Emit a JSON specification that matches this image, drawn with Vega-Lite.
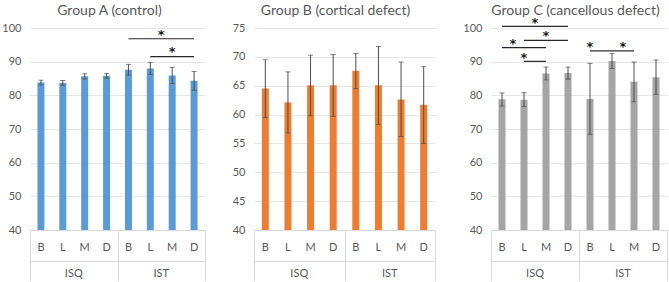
{
"$schema": "https://vega.github.io/schema/vega-lite/v6.json",
"background": "white",
"autosize": {"type": "pad"},
"padding": {"left": 1, "top": 4, "right": 0, "bottom": 0},
"spacing": 26,
"datasets": {
"bars": [
{"panel":"A","cat":"ISQ|B","value":83.8,"lo":83.1,"hi":84.5},
{"panel":"A","cat":"ISQ|L","value":83.7,"lo":83.0,"hi":84.4},
{"panel":"A","cat":"ISQ|M","value":85.7,"lo":84.9,"hi":86.4},
{"panel":"A","cat":"ISQ|D","value":85.8,"lo":85.1,"hi":86.5},
{"panel":"A","cat":"IST|B","value":87.6,"lo":86.0,"hi":89.2},
{"panel":"A","cat":"IST|L","value":88.0,"lo":86.2,"hi":89.8},
{"panel":"A","cat":"IST|M","value":85.9,"lo":83.5,"hi":88.3},
{"panel":"A","cat":"IST|D","value":84.3,"lo":81.5,"hi":87.1},
{"panel":"B","cat":"ISQ|B","value":64.5,"lo":59.5,"hi":69.5},
{"panel":"B","cat":"ISQ|L","value":62.1,"lo":56.8,"hi":67.4},
{"panel":"B","cat":"ISQ|M","value":65.1,"lo":59.8,"hi":70.3},
{"panel":"B","cat":"ISQ|D","value":65.1,"lo":59.7,"hi":70.4},
{"panel":"B","cat":"IST|B","value":67.6,"lo":64.5,"hi":70.6},
{"panel":"B","cat":"IST|L","value":65.1,"lo":58.3,"hi":71.8},
{"panel":"B","cat":"IST|M","value":62.6,"lo":56.2,"hi":69.1},
{"panel":"B","cat":"IST|D","value":61.7,"lo":55.0,"hi":68.3},
{"panel":"C","cat":"ISQ|B","value":78.8,"lo":76.8,"hi":80.7},
{"panel":"C","cat":"ISQ|L","value":78.7,"lo":76.7,"hi":80.8},
{"panel":"C","cat":"ISQ|M","value":86.5,"lo":84.6,"hi":88.4},
{"panel":"C","cat":"ISQ|D","value":86.6,"lo":84.8,"hi":88.4},
{"panel":"C","cat":"IST|B","value":78.9,"lo":68.4,"hi":89.5},
{"panel":"C","cat":"IST|L","value":90.2,"lo":88.0,"hi":92.4},
{"panel":"C","cat":"IST|M","value":84.0,"lo":78.1,"hi":89.9},
{"panel":"C","cat":"IST|D","value":85.4,"lo":80.3,"hi":90.5}
],
"sig": [
{"panel":"A","from":"IST|B","to":"IST|D","y":96.8},
{"panel":"A","from":"IST|L","to":"IST|D","y":91.5},
{"panel":"C","from":"ISQ|B","to":"ISQ|D","y":100.5},
{"panel":"C","from":"ISQ|L","to":"ISQ|D","y":96.3},
{"panel":"C","from":"ISQ|B","to":"ISQ|M","y":94.2},
{"panel":"C","from":"ISQ|L","to":"ISQ|M","y":90.1},
{"panel":"C","from":"IST|B","to":"IST|L","y":93.2},
{"panel":"C","from":"IST|L","to":"IST|M","y":93.2}
],
"stars": [
{"panel":"A","at":"IST|L","edge":true,"y":98.0},
{"panel":"A","at":"IST|M","edge":false,"y":92.8},
{"panel":"C","at":"ISQ|L","edge":true,"y":101.4},
{"panel":"C","at":"ISQ|M","edge":false,"y":97.5},
{"panel":"C","at":"ISQ|B","edge":true,"y":95.3},
{"panel":"C","at":"ISQ|L","edge":false,"y":91.0},
{"panel":"C","at":"IST|B","edge":false,"y":94.5},
{"panel":"C","at":"IST|L","edge":true,"y":94.5}
],
"groups": [{"group":"ISQ"},{"group":"IST"}]
},
"hconcat": [
{
"width": 175, "height": 202,
"title": {"text": "Group A (control)", "dx": -8, "offset": 4},
"resolve": {"scale": {"x": "independent"}, "axis": {"x": "independent"}},
"layer": [
 {"layer": [
  {"data": {"name": "bars"}, "transform": [{"filter": "datum.panel === 'A'"}],
   "layer": [
    {"mark": {"type": "bar", "size": 7, "color": "#5B9BD5"},
     "encoding": {
      "x": {"field": "cat", "type": "nominal", "scale": {"domain": ["ISQ|B","ISQ|L","ISQ|M","ISQ|D","IST|B","IST|L","IST|M","IST|D"], "paddingInner": 0, "paddingOuter": 0},
            "axis": {"orient": "bottom", "title": null, "labelExpr": "split(datum.value,'|')[1]", "labelAngle": 0, "ticks": false, "domain": true, "domainColor": "#d9d9d9", "labelPadding": 11, "grid": false}},
      "y": {"field": "value", "type": "quantitative", "scale": {"domain": [40, 100], "nice": false},
            "axis": {"title": null, "values": [40,50,60,70,80,90,100], "labelOverlap": false, "domain": false, "ticks": false, "grid": true, "labelPadding": 9}},
      "y2": {"datum": 40}}},
    {"mark": {"type": "rule", "color": "#4d4d4d"},
     "encoding": {"x": {"field": "cat", "type": "nominal", "title": null}, "y": {"field": "lo", "type": "quantitative", "axis": {"title": null, "values": [40,50,60,70,80,90,100], "labelOverlap": false, "domain": false, "ticks": false, "grid": true, "labelPadding": 9}}, "y2": {"field": "hi"}}},
    {"mark": {"type": "tick", "orient": "horizontal", "size": 5, "thickness": 1, "color": "#4d4d4d"},
     "encoding": {"x": {"field": "cat", "type": "nominal", "title": null}, "y": {"field": "lo", "type": "quantitative", "axis": {"title": null, "values": [40,50,60,70,80,90,100], "labelOverlap": false, "domain": false, "ticks": false, "grid": true, "labelPadding": 9}}}},
    {"mark": {"type": "tick", "orient": "horizontal", "size": 5, "thickness": 1, "color": "#4d4d4d"},
     "encoding": {"x": {"field": "cat", "type": "nominal", "title": null}, "y": {"field": "hi", "type": "quantitative", "axis": {"title": null, "values": [40,50,60,70,80,90,100], "labelOverlap": false, "domain": false, "ticks": false, "grid": true, "labelPadding": 9}}}}
   ]},
  {"data": {"name": "sig"}, "transform": [{"filter": "datum.panel === 'A'"}],
   "mark": {"type": "rule", "color": "#262626", "strokeWidth": 1.2},
   "encoding": {"x": {"field": "from", "type": "nominal", "title": null}, "x2": {"field": "to"}, "y": {"field": "y", "type": "quantitative", "axis": {"title": null, "values": [40,50,60,70,80,90,100], "labelOverlap": false, "domain": false, "ticks": false, "grid": true, "labelPadding": 9}}}},
  {"data": {"name": "stars"}, "transform": [{"filter": "datum.panel === 'A' && !datum.edge"}],
   "mark": {"type": "text", "text": "*", "font": "DejaVu Sans", "fontSize": 13, "fontWeight": "bold", "baseline": "middle", "color": "#1a1a1a"},
   "encoding": {"x": {"field": "at", "type": "nominal", "title": null}, "y": {"field": "y", "type": "quantitative", "axis": {"title": null, "values": [40,50,60,70,80,90,100], "labelOverlap": false, "domain": false, "ticks": false, "grid": true, "labelPadding": 9}}}},
  {"data": {"name": "stars"}, "transform": [{"filter": "datum.panel === 'A' && datum.edge"}],
   "mark": {"type": "text", "text": "*", "font": "DejaVu Sans", "fontSize": 13, "fontWeight": "bold", "baseline": "middle", "color": "#1a1a1a"},
   "encoding": {"x": {"field": "at", "type": "nominal", "title": null, "bandPosition": 1}, "y": {"field": "y", "type": "quantitative", "axis": {"title": null, "values": [40,50,60,70,80,90,100], "labelOverlap": false, "domain": false, "ticks": false, "grid": true, "labelPadding": 9}}}}
 ]},
 {"data": {"name": "groups"}, "mark": {"type": "rule", "strokeOpacity": 0},
  "encoding": {"x": {"field": "group", "type": "nominal", "scale": {"paddingInner": 0, "paddingOuter": 0},
   "axis": {"orient": "bottom", "title": null, "labels": false, "domain": false, "ticks": true, "tickBand": "extent", "tickSize": 51, "tickColor": "#d9d9d9", "grid": false}}}},
 {"data": {"name": "groups"}, "mark": {"type": "rule", "strokeOpacity": 0},
  "encoding": {"x": {"field": "group", "type": "nominal", "scale": {"paddingInner": 0, "paddingOuter": 0},
   "axis": {"orient": "bottom", "title": null, "offset": 31, "labels": true, "labelAngle": 0, "domain": true, "domainColor": "#d9d9d9", "ticks": false, "labelPadding": 6, "grid": false}}}}
]
},
{
"width": 181, "height": 202,
"title": {"text": "Group B (cortical defect)", "dx": -9, "offset": 4},
"resolve": {"scale": {"x": "independent"}, "axis": {"x": "independent"}},
"layer": [
 {"data": {"name": "bars"}, "transform": [{"filter": "datum.panel === 'B'"}],
   "layer": [
    {"mark": {"type": "bar", "size": 7, "color": "#ED7D31"},
     "encoding": {
      "x": {"field": "cat", "type": "nominal", "scale": {"domain": ["ISQ|B","ISQ|L","ISQ|M","ISQ|D","IST|B","IST|L","IST|M","IST|D"], "paddingInner": 0, "paddingOuter": 0},
            "axis": {"orient": "bottom", "title": null, "labelExpr": "split(datum.value,'|')[1]", "labelAngle": 0, "ticks": false, "domain": true, "domainColor": "#d9d9d9", "labelPadding": 11, "grid": false}},
      "y": {"field": "value", "type": "quantitative", "scale": {"domain": [40, 75], "nice": false},
            "axis": {"title": null, "values": [40,45,50,55,60,65,70,75], "labelOverlap": false, "domain": false, "ticks": false, "grid": true, "labelPadding": 9}},
      "y2": {"datum": 40}}},
    {"mark": {"type": "rule", "color": "#4d4d4d"},
     "encoding": {"x": {"field": "cat", "type": "nominal", "title": null}, "y": {"field": "lo", "type": "quantitative", "axis": {"title": null, "values": [40,45,50,55,60,65,70,75], "labelOverlap": false, "domain": false, "ticks": false, "grid": true, "labelPadding": 9}}, "y2": {"field": "hi"}}},
    {"mark": {"type": "tick", "orient": "horizontal", "size": 5, "thickness": 1, "color": "#4d4d4d"},
     "encoding": {"x": {"field": "cat", "type": "nominal", "title": null}, "y": {"field": "lo", "type": "quantitative", "axis": {"title": null, "values": [40,45,50,55,60,65,70,75], "labelOverlap": false, "domain": false, "ticks": false, "grid": true, "labelPadding": 9}}}},
    {"mark": {"type": "tick", "orient": "horizontal", "size": 5, "thickness": 1, "color": "#4d4d4d"},
     "encoding": {"x": {"field": "cat", "type": "nominal", "title": null}, "y": {"field": "hi", "type": "quantitative", "axis": {"title": null, "values": [40,45,50,55,60,65,70,75], "labelOverlap": false, "domain": false, "ticks": false, "grid": true, "labelPadding": 9}}}}
   ]},
 {"data": {"name": "groups"}, "mark": {"type": "rule", "strokeOpacity": 0},
  "encoding": {"x": {"field": "group", "type": "nominal", "scale": {"paddingInner": 0, "paddingOuter": 0},
   "axis": {"orient": "bottom", "title": null, "labels": false, "domain": false, "ticks": true, "tickBand": "extent", "tickSize": 51, "tickColor": "#d9d9d9", "grid": false}}}},
 {"data": {"name": "groups"}, "mark": {"type": "rule", "strokeOpacity": 0},
  "encoding": {"x": {"field": "group", "type": "nominal", "scale": {"paddingInner": 0, "paddingOuter": 0},
   "axis": {"orient": "bottom", "title": null, "offset": 31, "labels": true, "labelAngle": 0, "domain": true, "domainColor": "#d9d9d9", "ticks": false, "labelPadding": 6, "grid": false}}}}
]
},
{
"width": 176, "height": 202,
"title": {"text": "Group C (cancellous defect)", "dx": -3.5, "offset": -1},
"resolve": {"scale": {"x": "independent"}, "axis": {"x": "independent"}},
"layer": [
 {"layer": [
  {"data": {"name": "bars"}, "transform": [{"filter": "datum.panel === 'C'"}],
   "layer": [
    {"mark": {"type": "bar", "size": 7, "color": "#A5A5A5"},
     "encoding": {
      "x": {"field": "cat", "type": "nominal", "scale": {"domain": ["ISQ|B","ISQ|L","ISQ|M","ISQ|D","IST|B","IST|L","IST|M","IST|D"], "paddingInner": 0, "paddingOuter": 0},
            "axis": {"orient": "bottom", "title": null, "labelExpr": "split(datum.value,'|')[1]", "labelAngle": 0, "ticks": false, "domain": true, "domainColor": "#d9d9d9", "labelPadding": 11, "grid": false}},
      "y": {"field": "value", "type": "quantitative", "scale": {"domain": [40, 100], "nice": false},
            "axis": {"title": null, "values": [40,50,60,70,80,90,100], "labelOverlap": false, "domain": false, "ticks": false, "grid": true, "labelPadding": 9}},
      "y2": {"datum": 40}}},
    {"mark": {"type": "rule", "color": "#4d4d4d"},
     "encoding": {"x": {"field": "cat", "type": "nominal", "title": null}, "y": {"field": "lo", "type": "quantitative", "axis": {"title": null, "values": [40,50,60,70,80,90,100], "labelOverlap": false, "domain": false, "ticks": false, "grid": true, "labelPadding": 9}}, "y2": {"field": "hi"}}},
    {"mark": {"type": "tick", "orient": "horizontal", "size": 5, "thickness": 1, "color": "#4d4d4d"},
     "encoding": {"x": {"field": "cat", "type": "nominal", "title": null}, "y": {"field": "lo", "type": "quantitative", "axis": {"title": null, "values": [40,50,60,70,80,90,100], "labelOverlap": false, "domain": false, "ticks": false, "grid": true, "labelPadding": 9}}}},
    {"mark": {"type": "tick", "orient": "horizontal", "size": 5, "thickness": 1, "color": "#4d4d4d"},
     "encoding": {"x": {"field": "cat", "type": "nominal", "title": null}, "y": {"field": "hi", "type": "quantitative", "axis": {"title": null, "values": [40,50,60,70,80,90,100], "labelOverlap": false, "domain": false, "ticks": false, "grid": true, "labelPadding": 9}}}}
   ]},
  {"data": {"name": "sig"}, "transform": [{"filter": "datum.panel === 'C'"}],
   "mark": {"type": "rule", "color": "#262626", "strokeWidth": 1.2},
   "encoding": {"x": {"field": "from", "type": "nominal", "title": null}, "x2": {"field": "to"}, "y": {"field": "y", "type": "quantitative", "axis": {"title": null, "values": [40,50,60,70,80,90,100], "labelOverlap": false, "domain": false, "ticks": false, "grid": true, "labelPadding": 9}}}},
  {"data": {"name": "stars"}, "transform": [{"filter": "datum.panel === 'C' && !datum.edge"}],
   "mark": {"type": "text", "text": "*", "font": "DejaVu Sans", "fontSize": 13, "fontWeight": "bold", "baseline": "middle", "color": "#1a1a1a"},
   "encoding": {"x": {"field": "at", "type": "nominal", "title": null}, "y": {"field": "y", "type": "quantitative", "axis": {"title": null, "values": [40,50,60,70,80,90,100], "labelOverlap": false, "domain": false, "ticks": false, "grid": true, "labelPadding": 9}}}},
  {"data": {"name": "stars"}, "transform": [{"filter": "datum.panel === 'C' && datum.edge"}],
   "mark": {"type": "text", "text": "*", "font": "DejaVu Sans", "fontSize": 13, "fontWeight": "bold", "baseline": "middle", "color": "#1a1a1a"},
   "encoding": {"x": {"field": "at", "type": "nominal", "title": null, "bandPosition": 1}, "y": {"field": "y", "type": "quantitative", "axis": {"title": null, "values": [40,50,60,70,80,90,100], "labelOverlap": false, "domain": false, "ticks": false, "grid": true, "labelPadding": 9}}}}
 ]},
 {"data": {"name": "groups"}, "mark": {"type": "rule", "strokeOpacity": 0},
  "encoding": {"x": {"field": "group", "type": "nominal", "scale": {"paddingInner": 0, "paddingOuter": 0},
   "axis": {"orient": "bottom", "title": null, "labels": false, "domain": false, "ticks": true, "tickBand": "extent", "tickSize": 51, "tickColor": "#d9d9d9", "grid": false}}}},
 {"data": {"name": "groups"}, "mark": {"type": "rule", "strokeOpacity": 0},
  "encoding": {"x": {"field": "group", "type": "nominal", "scale": {"paddingInner": 0, "paddingOuter": 0},
   "axis": {"orient": "bottom", "title": null, "offset": 31, "labels": true, "labelAngle": 0, "domain": true, "domainColor": "#d9d9d9", "ticks": false, "labelPadding": 6, "grid": false}}}}
]
}
],
"config": {
 "font": "Lato",
 "view": {"stroke": null},
 "axis": {"labelFont": "Lato", "labelFontSize": 11, "labelColor": "#595959", "gridColor": "#e6e6e6"},
 "title": {"font": "Lato", "fontSize": 14, "fontWeight": "normal", "color": "#595959", "anchor": "middle"},
 "text": {"font": "Lato"}
}
}
